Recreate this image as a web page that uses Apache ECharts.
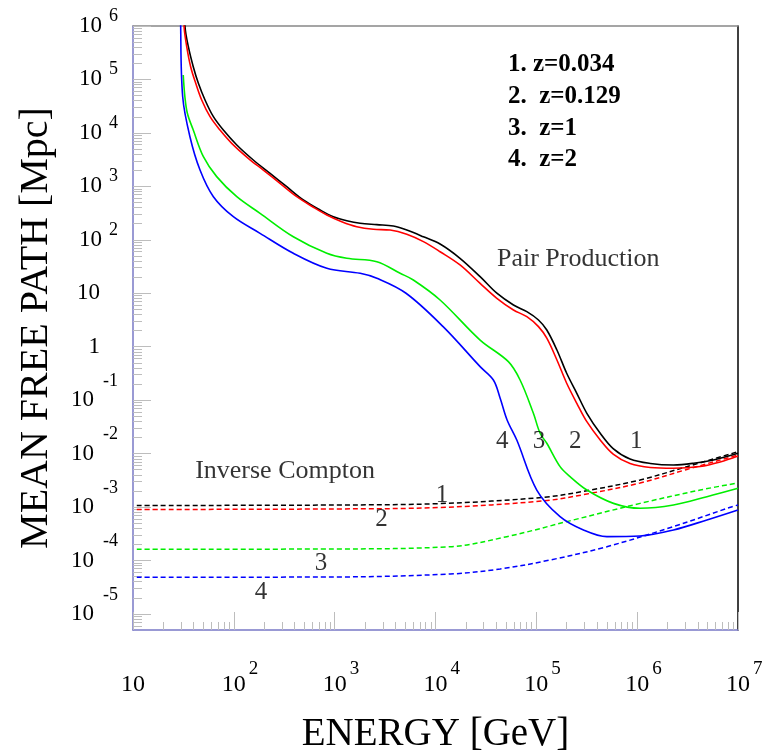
<!DOCTYPE html>
<html>
<head>
<meta charset="utf-8">
<script src="https://cdn.jsdelivr.net/npm/echarts@6.0.0/dist/echarts.min.js"></script>
<style>
  html, body { margin: 0; padding: 0; background: #ffffff; }
  #chart { width: 778px; height: 751px; }
</style>
</head>
<body>
<div id="chart"></div>
<script>
// Gamma-ray mean free path vs. energy: pair production (solid) and inverse Compton (dashed)
// for four source redshifts. Points are [energy in GeV, mean free path in Mpc].

const redshiftLines = ['1. z=0.034', '2.  z=0.129', '3.  z=1', '4.  z=2'];

// Pair production
const ppZ1 = [[32.3,3.2e6],[32.8,9.7e5],[35.4,4.1e5],[39.6,1.73e5],[44.5,8.47e4],[51.8,4.13e4],[62.7,2.01e4],[78.7,1.13e4],[107,5940],[156,3110],[229,1750],[335,984],[489,556],[716,361],[970,270],[1318,228],[1786,204],[2618,192],[3819,181],[5188,152],[7586,114],[1.11e4,83.4],[1.75e4,45.1],[2.77e4,20.4],[4.06e4,10.0],[5.93e4,6.03],[8.05e4,4.52],[1.05e5,3.16],[1.27e5,2.05],[1.6e5,0.867],[2.0e5,0.318],[2.52e5,0.134],[3.17e5,0.0567],[4.3e5,0.024],[5.78e5,0.0124],[8.5e5,7.9e-3],[1.35e6,6.53e-3],[2.29e6,6.12e-3],[3.62e6,6.58e-3],[5.71e6,7.6e-3],[1e7,0.01014]];
const ppZ2 = [[31.6,3.2e6],[32.1,9.7e5],[34.1,4.1e5],[37.3,1.73e5],[41.9,8.47e4],[48.0,4.13e4],[58.1,2.01e4],[72.9,1.13e4],[95.3,6380],[139,3350],[196,2020],[287,1140],[421,640],[615,406],[836,291],[1175,218],[1656,176],[2421,157],[3548,152],[5188,127],[7586,92.3],[1.11e4,59.8],[1.75e4,33.8],[2.77e4,15.3],[4.06e4,8.04],[5.93e4,4.86],[8.05e4,3.64],[1.05e5,2.37],[1.27e5,1.44],[1.6e5,0.564],[2.0e5,0.207],[2.52e5,0.0873],[3.17e5,0.0395],[4.3e5,0.018],[5.78e5,9.8e-3],[8.5e5,6.53e-3],[1.35e6,5.5e-3],[2.29e6,5.31e-3],[4.22e6,5.74e-3],[6.65e6,6.97e-3],[1e7,9.0e-3]];
const ppZ3 = [[31.5,1.21e5],[32.7,4.75e4],[34.6,2.33e4],[39.6,1.13e4],[49.9,3590],[67.6,1520],[107,640],[182,313],[389,114],[836,55.8],[1320,45],[2620,38.9],[4460,23.6],[6030,17.7],[1.11e4,7.48],[2.77e4,1.33],[5.28e4,0.524],[6.9e4,0.238],[9.35e4,0.0567],[1.09e5,0.024],[1.27e5,0.0156],[1.72e5,5.69e-3],[2.16e5,3.7e-3],[3.17e5,2.08e-3],[5.82e5,1.17e-3],[1.07e6,9.47e-4],[2.29e6,1.09e-3],[4.92e6,1.56e-3],[1e7,2.24e-3]];
const ppZ4 = [[29.6,3.2e6],[29.7,1e6],[31.1,4.75e4],[36.7,8490],[46.2,2020],[62.7,640],[98.9,270],[182,132],[389,55.8],[836,29.3],[1790,23.6],[2620,19.1],[5100,10],[1.19e4,2.37],[2.77e4,0.423],[3.75e4,0.238],[4.37e4,0.11],[5.13e4,0.0426],[6.4e4,0.0179],[1.01e5,2.08e-3],[1.72e5,6.61e-4],[2.93e5,3.72e-4],[5.01e5,2.79e-4],[1.07e6,2.87e-4],[2.29e6,3.72e-4],[4.92e6,5.73e-4],[1e7,8.81e-4]];

// Inverse Compton
const icZ1 = [[10.9,1.07e-3],[1000,1.09e-3],[1.11e4,1.16e-3],[1.17e5,1.52e-3],[3.17e5,2.02e-3],[1.07e6,3.21e-3],[3.11e6,5.69e-3],[1e7,0.01086]];
const icZ2 = [[10.9,9.0e-4],[1000,9.2e-4],[1.11e4,9.8e-4],[1.17e5,1.3e-3],[3.17e5,1.75e-3],[1.07e6,2.82e-3],[3.11e6,5.05e-3],[1e7,9.4e-3]];
const icZ3 = [[10.9,1.62e-4],[1000,1.64e-4],[1.4e4,1.81e-4],[5.1e4,2.79e-4],[2.33e5,5.73e-4],[1.07e6,1.17e-3],[4.22e6,2.08e-3],[1e7,2.82e-3]];
const icZ4 = [[10.9,4.85e-5],[1000,4.91e-5],[1.4e4,5.58e-5],[4.38e4,6.93e-5],[1.37e5,1.02e-4],[5.01e5,1.81e-4],[2.29e6,4.3e-4],[8.4e6,9.9e-4],[1e7,1.09e-3]];

// Text placed on the plot, at [energy, mean free path]
const noteTexts = ['Pair Production', 'Inverse Compton', '1', '2', '3', '4', '1', '2', '3', '4'];
const noteEnergy = [2.6e5, 322, 9.77e5, 2.43e5, 1.06e5, 4.58e4, 1.16e4, 2920, 733, 186];
const notePath = [43.8, 4.72e-3, 0.0168, 0.0168, 0.0168, 0.0168, 1.68e-3, 5.85e-4, 8.97e-5, 2.47e-5];

// Axis ranges and decade ticks
const xMin = 10, xMax = 1e7;
const yMin = 5e-6, yMax = 1e6;
const xDecades = [10, 1e2, 1e3, 1e4, 1e5, 1e6, 1e7];
const yDecades = [1e-5, 1e-4, 1e-3, 1e-2, 1e-1, 1, 10, 1e2, 1e3, 1e4, 1e5, 1e6];

const SERIF = 'Liberation Serif';
const FRAME_BLUE = '#7878c6';
const TICK_GREY = '#bdbdbd';

function subDecades(lo, hi) {
  const out = [];
  for (let e = Math.floor(Math.log10(lo)) - 1; e <= Math.ceil(Math.log10(hi)); e++) {
    for (let k = 2; k <= 9; k++) {
      const v = Number((k * Math.pow(10, e)).toPrecision(6));
      if (v > lo && v < hi) out.push(v);
    }
  }
  return out;
}

function exponentOf(v) { return Math.round(Math.log10(v)); }

function xLabel(v) {
  const e = exponentOf(v);
  if (e === 1) return '{b0|10}';
  return '{b|10}{s|' + e + '}';
}

function yLabel(v) {
  const e = exponentOf(v);
  if (e === 0) return '{bp|1}';
  if (e === 1) return '{bp|10}';
  return '{b|10}{' + (e < 0 ? 'sn' : 'sp') + '|' + e + '}';
}

// The tall superscript labels are split over two overlaid left axes
// (alternate decades), so neighbouring labels never compete for space.
function yLabelStyle(values) {
  return {
    show: true, customValues: values, margin: 15, formatter: yLabel,
    showMinLabel: true, showMaxLabel: true, hideOverlap: false,
    fontFamily: SERIF, color: '#000',
    rich: {
      b: { fontFamily: SERIF, fontSize: 23, lineHeight: 23, color: '#000' },
      bp: { fontFamily: SERIF, fontSize: 23, lineHeight: 23, color: '#000', padding: [0, 18, 0, 0] },
      sp: { fontFamily: SERIF, fontSize: 18, lineHeight: 15, color: '#000', padding: [0, 0, 20, 7] },
      sn: { fontFamily: SERIF, fontSize: 18, lineHeight: 15, color: '#000', padding: [0, 0, 38, 9] }
    }
  };
}
const yDecadesA = yDecades.filter((v, i) => i % 2 === 1);
const yDecadesB = yDecades.filter((v, i) => i % 2 === 0);

const chart = echarts.init(document.getElementById('chart'), null, { renderer: 'canvas' });

const curveColors = ['#000000', '#ff0000', '#00ee00', '#0000ff'];
const ppSets = [ppZ1, ppZ2, ppZ3, ppZ4];
const icSets = [icZ1, icZ2, icZ3, icZ4];

const series = [];
icSets.forEach((d, i) => {
  series.push({
    type: 'line', data: d, xAxisIndex: 0, yAxisIndex: 0,
    showSymbol: false, symbol: 'none', smooth: 0.35, silent: true,
    lineStyle: { color: curveColors[i], width: 1.5, type: [5, 3] },
    z: 2
  });
});
ppSets.forEach((d, i) => {
  series.push({
    type: 'line', data: d, xAxisIndex: 0, yAxisIndex: 0,
    showSymbol: false, symbol: 'none', smooth: 0.35, silent: true,
    lineStyle: { color: curveColors[i], width: 1.6 },
    z: 3 + i
  });
});
series.push({
  type: 'scatter', xAxisIndex: 0, yAxisIndex: 0, silent: true,
  symbolSize: 1, itemStyle: { color: 'rgba(0,0,0,0)' },
  data: noteTexts.map((t, i) => ({
    name: t, value: [noteEnergy[i], notePath[i]],
    label: { fontSize: t.length > 2 ? 26 : 25 }
  })),
  label: {
    show: true, position: 'inside', formatter: '{b}',
    fontFamily: SERIF, color: '#000'
  },
  labelLayout: { hideOverlap: false },
  z: 10
});

chart.setOption({
  animation: false,
  backgroundColor: '#ffffff',
  title: {
    text: redshiftLines.join('\n'),
    left: 503, top: 44,
    textStyle: { fontFamily: SERIF, fontWeight: 'bold', fontSize: 25, lineHeight: 31.7, color: '#000' }
  },
  grid: { left: 133, right: 40, top: 26, bottom: 121, containLabel: false, outerBoundsMode: 'none' },
  xAxis: [
    {
      type: 'log', logBase: 10, min: xMin, max: xMax, position: 'bottom',
      name: 'ENERGY [GeV]', nameLocation: 'middle', nameGap: 79,
      nameTextStyle: { fontFamily: SERIF, fontSize: 39, color: '#000' },
      axisLine: { show: true, onZero: false, lineStyle: { color: FRAME_BLUE, width: 1.5 } },
      axisTick: { show: true, inside: true, length: 18, customValues: xDecades, lineStyle: { color: TICK_GREY, width: 1 } },
      axisLabel: {
        show: true, customValues: xDecades, margin: 31, formatter: xLabel,
        showMinLabel: true, showMaxLabel: true, hideOverlap: false,
        fontFamily: SERIF, color: '#000',
        rich: {
          b0: { fontFamily: SERIF, fontSize: 24, lineHeight: 48, color: '#000' },
          b: { fontFamily: SERIF, fontSize: 24, lineHeight: 48, color: '#000', padding: [0, 0, 0, 12.5] },
          s: { fontFamily: SERIF, fontSize: 19, lineHeight: 19, color: '#000', padding: [0, 0, 31, 3] }
        }
      },
      splitLine: { show: false }, minorTick: { show: false }
    },
    {
      type: 'log', logBase: 10, min: xMin, max: xMax, position: 'bottom',
      axisLine: { show: false, onZero: false },
      axisTick: { show: true, inside: true, length: 8, customValues: subDecades(xMin, xMax), lineStyle: { color: TICK_GREY, width: 1 } },
      axisLabel: { show: false }, splitLine: { show: false }
    },
    {
      type: 'log', logBase: 10, min: xMin, max: xMax, position: 'top',
      axisLine: { show: true, onZero: false, lineStyle: { color: '#888888', width: 1.5 } },
      axisTick: { show: false }, axisLabel: { show: false }, splitLine: { show: false }
    }
  ],
  yAxis: [
    {
      type: 'log', logBase: 10, min: yMin, max: yMax, position: 'left',
      name: 'MEAN FREE PATH [Mpc]', nameLocation: 'middle', nameGap: 77,
      nameTextStyle: { fontFamily: SERIF, fontSize: 40, color: '#000' },
      axisLine: { show: true, onZero: false, lineStyle: { color: FRAME_BLUE, width: 1.5 } },
      axisTick: { show: true, inside: true, length: 18, customValues: yDecades, lineStyle: { color: TICK_GREY, width: 1 } },
      axisLabel: yLabelStyle(yDecadesA),
      splitLine: { show: false }, minorTick: { show: false }
    },
    {
      type: 'log', logBase: 10, min: yMin, max: yMax, position: 'left',
      axisLine: { show: false, onZero: false },
      axisTick: { show: true, inside: true, length: 9, customValues: subDecades(yMin, yMax), lineStyle: { color: TICK_GREY, width: 1 } },
      axisLabel: yLabelStyle(yDecadesB), splitLine: { show: false }
    },
    {
      type: 'log', logBase: 10, min: yMin, max: yMax, position: 'right',
      axisLine: { show: true, onZero: false, lineStyle: { color: '#000000', width: 1.5 } },
      axisTick: { show: false }, axisLabel: { show: false }, splitLine: { show: false }
    }
  ],
  series: series
});
</script>
</body>
</html>
